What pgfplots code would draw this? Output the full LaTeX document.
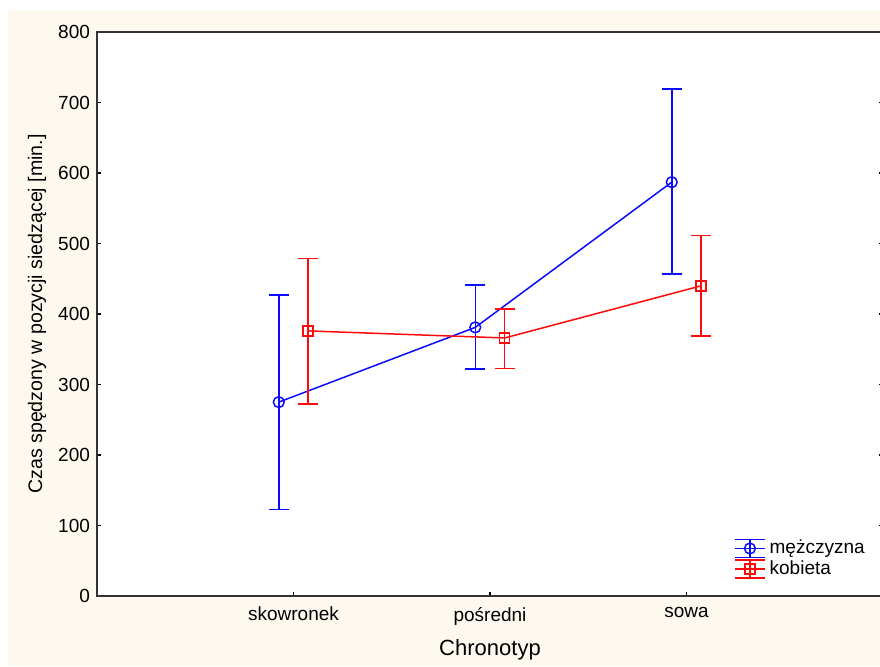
\documentclass[border=0pt]{standalone}
\usepackage{fontspec}
\setmainfont{Liberation Sans}
\usepackage{pgfplots}
\pgfplotsset{compat=1.18}
\definecolor{bgcream}{HTML}{FDF9EE}
\definecolor{menblue}{HTML}{0A0AFF}
\definecolor{womred}{HTML}{FF0A0A}

\pgfplotstableread{
x      y    ep   em
-0.075 275  152  152
0.925  381  60   59
1.925  587  132  130
}\men
\pgfplotstableread{
x      y    ep   em
0.075  376  103  104
1.075  366  41   43
2.075  440  71   71
}\women

\pgfplotsset{
  ebarlegend/.style={legend image code/.code={
    \draw[##1, mark=none] (0pt,0pt) -- (15pt,0pt);
    \draw[##1, mark=none] (7.5pt,-4.5pt) -- (7.5pt,4.5pt);
    \draw[##1, mark=none] (0pt,4.5pt) -- (15pt,4.5pt);
    \draw[##1, mark=none] (0pt,-4.5pt) -- (15pt,-4.5pt);
    \draw[##1, only marks] plot coordinates {(7.5pt,0pt)};
  }},
}

\begin{document}
\begin{tikzpicture}[x=1pt,y=1pt]
\useasboundingbox (0,0) rectangle (440,333);
\clip (0,0) rectangle (440,333);
\fill[bgcream] (4,0) rectangle (440,328);
\begin{scope}[overlay]
\begin{axis}[
    at={(48.5pt,317pt)}, anchor=north west,
    scale only axis,
    width=393pt, height=282pt,
    xmin=-1, xmax=3,
    ymin=0, ymax=800,
    xtick={0,1,2},
    xticklabels={skowronek,pośredni,sowa},
    ytick={0,100,...,800},
    xtick pos=bottom,
    ytick pos=both,
    tick align=inside,
    major tick length=2pt,
    tick style={line width=0.6pt, black},
    axis line style={line width=0.9pt, black!80},
    axis background/.style={fill=white},
    /pgf/number format/assume math mode=true,
    tick label style={font=\fontsize{9.5}{11.4}\selectfont},
    xticklabel style={yshift=-2pt},
    xlabel={Chronotyp},
    ylabel={Czas spędzony w pozycji siedzącej [min.]},
    xlabel style={font=\fontsize{11}{13.2}\selectfont,
      at={(axis description cs:0.5,-0.0957)}, anchor=center},
    ylabel style={font=\fontsize{9.8}{11.7}\selectfont,
      at={(axis description cs:-0.0764,0.5)}, anchor=center},
    legend style={at={(0.8025,0.114)}, anchor=north west, draw=none, fill=none,
      font=\fontsize{9.5}{11.4}\selectfont, row sep=-2pt},
    legend cell align=left,
]
\addplot[color=menblue, line width=0.75pt, mark=o, mark size=2.7pt, ebarlegend,
    error bars/.cd, y dir=both, y explicit,
    error bar style={line width=0.75pt},
    error mark options={rotate=90, mark size=5pt, line width=0.75pt}]
  table[x=x, y=y, y error plus=ep, y error minus=em] {\men};
\addlegendentry{mężczyzna}
\addplot[color=womred, line width=0.75pt, mark=square, mark size=2.5pt, ebarlegend,
    error bars/.cd, y dir=both, y explicit,
    error bar style={line width=0.75pt},
    error mark options={rotate=90, mark size=5pt, line width=0.75pt}]
  table[x=x, y=y, y error plus=ep, y error minus=em] {\women};
\addlegendentry{kobieta}
\end{axis}
\end{scope}
\end{tikzpicture}
\end{document}
